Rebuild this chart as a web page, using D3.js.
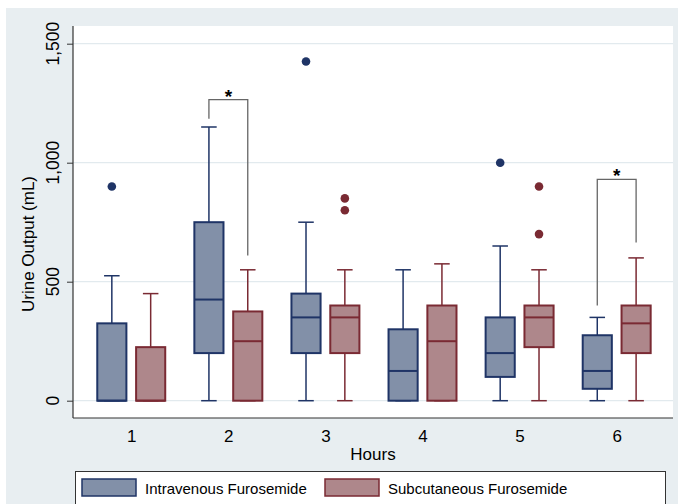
<!DOCTYPE html>
<html><head><meta charset="utf-8">
<script src="https://cdn.jsdelivr.net/npm/d3@7"></script>
<style>body{margin:0;background:#fff}svg{display:block}text{font-family:"Liberation Sans",Arial,sans-serif;fill:#000}</style>
</head><body><svg id="c" width="678" height="504"></svg>
<script>
// ---- data ----
const hours = [1, 2, 3, 4, 5, 6];
const groups = ["Intravenous Furosemide", "Subcutaneous Furosemide"];
// each entry: [lowerWhisker, q1, median, q3, upperWhisker]
const ivStats = [
  [0, 0, 0, 325, 525],
  [0, 200, 425, 750, 1150],
  [0, 200, 350, 450, 750],
  [0, 0, 125, 300, 550],
  [0, 100, 200, 350, 650],
  [0, 50, 125, 275, 350]
];
const scStats = [
  [0, 0, 0, 225, 450],
  [0, 0, 250, 375, 550],
  [0, 200, 350, 400, 550],
  [0, 0, 250, 400, 575],
  [0, 225, 350, 400, 550],
  [0, 200, 325, 400, 600]
];
const ivOutliers = [[900], [], [1425], [], [1000], []];
const scOutliers = [[], [], [850, 800], [], [900, 700], []];
const yTicks = [0, 500, 1000, 1500];
const yTickLabels = ["0", "500", "1,000", "1,500"];
// significance brackets: hour, top, left leg end, right leg end
const brackets = [
  {hour: 2, top: 1265, leftEnd: 1185, rightEnd: 610},
  {hour: 6, top: 930, leftEnd: 400, rightEnd: 665}
];

// ---- layout ----
const svg = d3.select("#c");
const P = {l: 73, r: 673, t: 26, b: 418};
const x = d3.scaleLinear().domain([0.4, 6.58]).range([P.l, P.r]);
const y = d3.scaleLinear().domain([0, 1500]).range([400.7, 43.7]);
const off = 0.2, bw = 0.3, cw = 0.16;
const colors = [
  {fill: "#8290a8", stroke: "#1f3466"},
  {fill: "#ae878b", stroke: "#7a2a33"}
];

svg.append("rect").attr("x", 6).attr("y", 8).attr("width", 672).attr("height", 496).attr("fill", "#e8eef1");
svg.append("rect").attr("x", P.l).attr("y", P.t).attr("width", P.r - P.l).attr("height", P.b - P.t).attr("fill", "#fff");

// gridlines
svg.append("g").selectAll("line").data(yTicks).join("line")
  .attr("x1", P.l).attr("x2", P.r).attr("y1", d => y(d)).attr("y2", d => y(d))
  .attr("stroke", "#e2eaee").attr("stroke-width", 1.2);

// y axis
const yAxis = d3.axisLeft(y).tickValues(yTicks).tickSize(6).tickFormat("");
const ya = svg.append("g").attr("transform", `translate(${P.l},0)`).call(yAxis);
ya.select(".domain").remove();
ya.selectAll(".tick line").attr("stroke", "#333");
svg.append("line").attr("x1", P.l).attr("x2", P.l).attr("y1", P.t).attr("y2", P.b).attr("stroke", "#333").attr("stroke-width", 1.2);
svg.append("g").selectAll("text").data(yTicks).join("text")
  .attr("transform", d => `translate(59,${y(d)}) rotate(-90)`)
  .attr("text-anchor", "middle").style("font-size", "17.5px")
  .text((d, i) => yTickLabels[i]);
svg.append("text").attr("transform", `translate(33.5,${(P.t + P.b) / 2 + 22}) rotate(-90)`)
  .attr("text-anchor", "middle").style("font-size", "17px").text("Urine Output (mL)");

// x axis
const xAxis = d3.axisBottom(x).tickValues(hours).tickSize(0).tickPadding(12).tickFormat(d3.format("d"));
const xa = svg.append("g").attr("transform", `translate(0,${P.b})`).call(xAxis);
xa.select(".domain").remove();
xa.selectAll("text").style("font-size", "17px").attr("fill", "#000").style("font-family", '"Liberation Sans",Arial,sans-serif');
svg.append("line").attr("x1", P.l).attr("x2", P.r).attr("y1", P.b).attr("y2", P.b).attr("stroke", "#333").attr("stroke-width", 1.2);
svg.append("text").attr("x", (P.l + P.r) / 2).attr("y", 460).attr("text-anchor", "middle").style("font-size", "17px").text("Hours");

// boxes
function drawSeries(stats, outl, gi, sign) {
  const c = colors[gi];
  const g = svg.append("g");
  stats.forEach((s, i) => {
    const cx = x(hours[i] + sign * off);
    const hw = (x(bw) - x(0)) / 2, cap = (x(cw) - x(0)) / 2;
    g.append("line").attr("x1", cx).attr("x2", cx).attr("y1", y(s[0])).attr("y2", y(s[1])).attr("stroke", c.stroke).attr("stroke-width", 1.5);
    g.append("line").attr("x1", cx).attr("x2", cx).attr("y1", y(s[3])).attr("y2", y(s[4])).attr("stroke", c.stroke).attr("stroke-width", 1.5);
    [s[0], s[4]].forEach(v => g.append("line").attr("x1", cx - cap).attr("x2", cx + cap).attr("y1", y(v)).attr("y2", y(v)).attr("stroke", c.stroke).attr("stroke-width", 1.5));
    g.append("rect").attr("x", cx - hw).attr("width", 2 * hw).attr("y", y(s[3])).attr("height", y(s[1]) - y(s[3]))
      .attr("fill", c.fill).attr("stroke", c.stroke).attr("stroke-width", 2);
    g.append("line").attr("x1", cx - hw).attr("x2", cx + hw).attr("y1", y(s[2])).attr("y2", y(s[2])).attr("stroke", c.stroke).attr("stroke-width", 2);
    outl[i].forEach(v => g.append("circle").attr("cx", cx).attr("cy", y(v)).attr("r", 4.3).attr("fill", c.stroke));
  });
}
drawSeries(ivStats, ivOutliers, 0, -1);
drawSeries(scStats, scOutliers, 1, 1);

// significance brackets
brackets.forEach(b => {
  const xl = x(b.hour - off), xr = x(b.hour + off);
  svg.append("path").attr("d", `M${xl},${y(b.leftEnd)}V${y(b.top)}H${xr}V${y(b.rightEnd)}`)
    .attr("fill", "none").attr("stroke", "#666").attr("stroke-width", 1.3);
  svg.append("text").attr("x", (xl + xr) / 2).attr("y", y(b.top) + 3).attr("text-anchor", "middle")
    .style("font-size", "19px").style("font-weight", "bold").text("*");
});

// legend
svg.append("rect").attr("x", 75.5).attr("y", 471.5).attr("width", 590).attr("height", 40).attr("fill", "#fff").attr("stroke", "#333");
const lx = [82, 325];
groups.forEach((gname, i) => {
  svg.append("rect").attr("x", lx[i]).attr("y", 479).attr("width", 54).attr("height", 17)
    .attr("fill", colors[i].fill).attr("stroke", colors[i].stroke).attr("stroke-width", 1.5);
  svg.append("text").attr("x", lx[i] + 63).attr("y", 494).style("font-size", "15px").text(gname);
});
</script></body></html>
